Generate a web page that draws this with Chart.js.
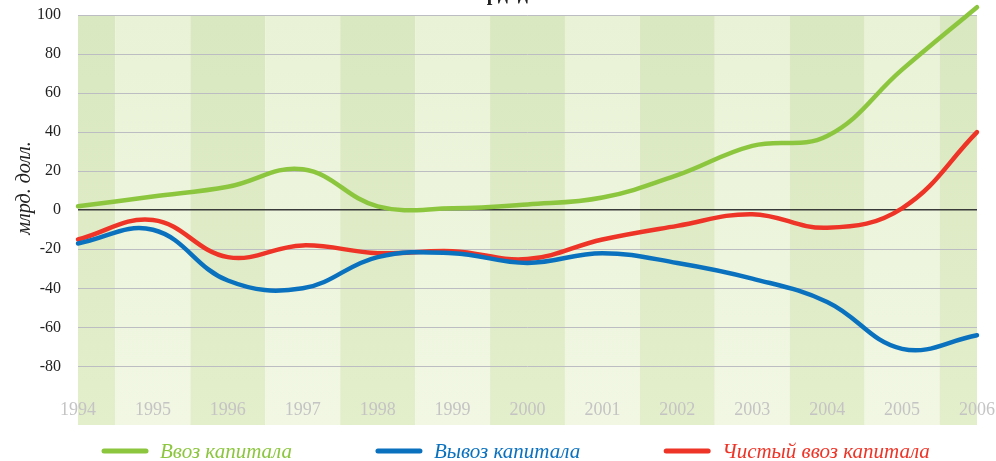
<!DOCTYPE html>
<html>
<head>
<meta charset="utf-8">
<script src="https://cdn.jsdelivr.net/npm/chart.js@4.4.0/dist/chart.umd.min.js"></script>
<style>
  html, body { margin: 0; padding: 0; background: #fff; }
  #wrap { width: 996px; height: 461px; position: relative; }
</style>
</head>
<body>
<div id="wrap"><canvas id="chart"></canvas></div>
<script>
// --- DATA ---
const years = ['1994', '1995', '1996', '1997', '1998', '1999', '2000', '2001', '2002', '2003', '2004', '2005', '2006'];
const capitalIn = [2, 7, 12, 21, 2, 1, 3, 6.5, 18, 33, 38, 72, 104];
const capitalOut = [-17, -10, -36, -40, -24, -22, -27, -22, -27, -35, -47, -71, -64];
const capitalNet = [-15, -5, -24, -18, -22, -21, -25, -15, -8, -2, -9, 1, 40];
const yTicks = [-80, -60, -40, -20, 0, 20, 40, 60, 80, 100];
const seriesNames = ['Ввоз капитала', 'Вывоз капитала', 'Чистый ввоз капитала'];
const seriesColors = ['#8cc63f', '#0a71bf', '#ee3427'];
const axisTitle = 'млрд. долл.';
const chartTitle = 'млрд. долл.';

const SERIF = "'Liberation Serif', 'DejaVu Serif', serif";

// --- PLUGINS ---
// alternating year bands behind the grid
const bandsPlugin = {
  id: 'bands',
  beforeDraw(chart) {
    const { ctx, chartArea: a, scales: { x } } = chart;
    ctx.save();
    ctx.beginPath();
    ctx.rect(a.left, a.top, a.right - a.left, a.bottom - a.top);
    ctx.clip();
    years.forEach((_, i) => {
      const x0 = x.getPixelForValue(i - 0.5);
      const x1 = x.getPixelForValue(i + 0.5);
      const g = ctx.createLinearGradient(0, a.top, 0, a.bottom);
      if (i % 2 === 0) {
        g.addColorStop(0, '#d9e8c0');
        g.addColorStop(1, '#e3eecb');
      } else {
        g.addColorStop(0, '#e9f2d6');
        g.addColorStop(1, '#f1f7e3');
      }
      ctx.fillStyle = g;
      ctx.fillRect(x0, a.top, x1 - x0, a.bottom - a.top);
    });
    ctx.restore();
  }
};

// year labels sit inside the plot, near its bottom
const yearLabelsPlugin = {
  id: 'yearLabels',
  beforeDatasetsDraw(chart) {
    const { ctx, chartArea: a, scales: { x } } = chart;
    ctx.save();
    ctx.font = '18px ' + SERIF;
    ctx.fillStyle = '#c4c4c4';
    ctx.textAlign = 'center';
    ctx.textBaseline = 'middle';
    years.forEach((y, i) => {
      ctx.fillText(y, x.getPixelForValue(i), a.bottom - 15);
    });
    ctx.restore();
  }
};

// rotated axis title, legend and the cut-off heading
const textPlugin = {
  id: 'texts',
  afterDraw(chart) {
    const { ctx } = chart;
    ctx.save();
    ctx.translate(25, 188);
    ctx.rotate(-Math.PI / 2);
    ctx.font = 'italic 20px ' + SERIF;
    ctx.fillStyle = '#222';
    ctx.textAlign = 'center';
    ctx.textBaseline = 'middle';
    ctx.fillText(axisTitle, 0, 0);
    ctx.restore();

    ctx.save();
    ctx.font = 'bold 20px ' + SERIF;
    ctx.fillStyle = '#222';
    ctx.textAlign = 'left';
    ctx.textBaseline = 'alphabetic';
    ctx.fillText(chartTitle, 462, 0);
    ctx.restore();

    // legend
    ctx.save();
    ctx.font = 'italic 21px ' + SERIF;
    ctx.textBaseline = 'alphabetic';
    ctx.lineCap = 'round';
    ctx.lineWidth = 5;
    let cx = 104;
    const ly = 451;
    chart.data.datasets.forEach(ds => {
      ctx.strokeStyle = ds.borderColor;
      ctx.beginPath();
      ctx.moveTo(cx, ly);
      ctx.lineTo(cx + 42, ly);
      ctx.stroke();
      ctx.fillStyle = ds.borderColor;
      ctx.fillText(ds.label, cx + 56, 458);
      cx += 56 + ctx.measureText(ds.label).width + 86;
    });
    ctx.restore();
  }
};

// --- CHART ---
const makeSeries = (label, data, color) => ({
  label: label,
  data: data,
  borderColor: color,
  backgroundColor: color,
  borderWidth: 4.5,
  borderCapStyle: 'round',
  pointRadius: 0,
  tension: 0.4,
  clip: false,
  fill: false
});

new Chart(document.getElementById('chart'), {
  type: 'line',
  data: {
    labels: years,
    datasets: [
      makeSeries(seriesNames[0], capitalIn, seriesColors[0]),
      makeSeries(seriesNames[1], capitalOut, seriesColors[1]),
      makeSeries(seriesNames[2], capitalNet, seriesColors[2])
    ]
  },
  options: {
    responsive: true,
    maintainAspectRatio: false,
    animation: false,
    layout: { padding: { top: 15, right: 19, bottom: 36, left: 0 } },
    plugins: {
      legend: { display: false },
      tooltip: { enabled: false }
    },
    scales: {
      x: {
        offset: false,
        grid: { display: false },
        border: { display: false },
        ticks: { display: false },
        afterFit: s => { s.height = 0; }
      },
      y: {
        min: -110,
        max: 100,
        afterBuildTicks: s => { s.ticks = yTicks.map(v => ({ value: v })); },
        afterFit: s => { s.width = 78; },
        border: { display: false },
        grid: {
          drawTicks: true,
          tickLength: 17,
          tickColor: 'rgba(0,0,0,0)',
          color: c => (c.tick && c.tick.value === 0) ? '#3a3a3a' : '#bcbcc3',
          lineWidth: c => (c.tick && c.tick.value === 0) ? 1.5 : 1
        },
        ticks: {
          padding: 0,
          color: '#222',
          font: { family: SERIF, size: 16 }
        }
      }
    }
  },
  plugins: [bandsPlugin, yearLabelsPlugin, textPlugin]
});
</script>
</body>
</html>
